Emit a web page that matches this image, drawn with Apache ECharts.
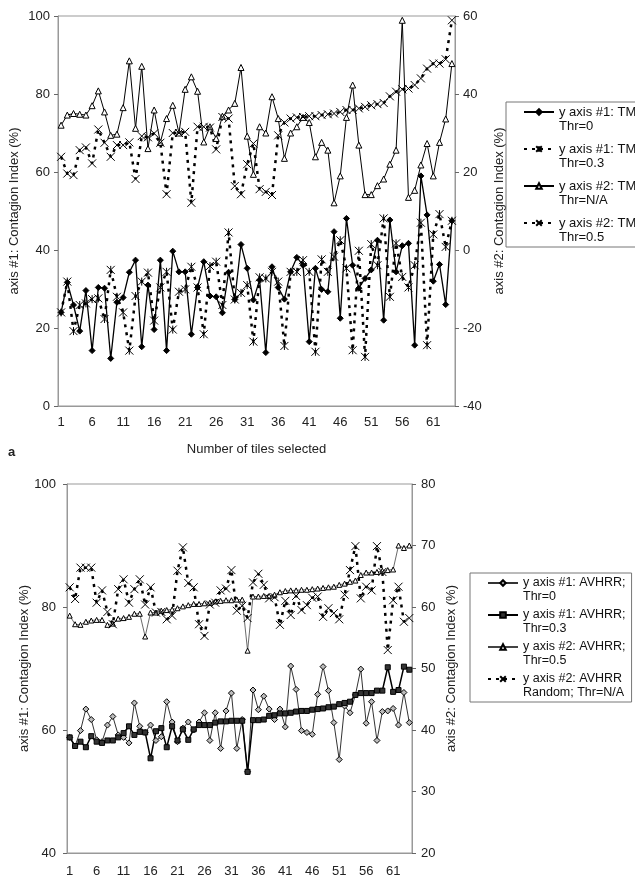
<!DOCTYPE html>
<html>
<head>
<meta charset="utf-8">
<script src="https://cdn.jsdelivr.net/npm/echarts@6.0.0/dist/echarts.min.js"></script>
<style>
  html, body { margin: 0; padding: 0; background: #fff; }
  #chart { width: 635px; height: 890px; }
</style>
</head>
<body>
<div id="chart"></div>
<script>
// categories: number of tiles selected
const tiles = Array.from({ length: 64 }, (_, i) => String(i + 1));

// panel a (TM) - axis #1 values
const tmThr0 = [24.0, 31.7, 25.9, 19.2, 29.6, 14.2, 30.4, 30.2, 12.2, 26.6,
  27.8, 34.3, 37.4, 15.2, 31.0, 19.6, 37.4, 14.2, 39.7, 34.4,
  34.4, 18.4, 30.4, 37.0, 28.2, 28.0, 23.9, 34.3, 27.3, 41.4,
  35.3, 27.2, 32.3, 13.7, 35.7, 30.4, 27.4, 34.4, 38.1, 36.1,
  16.5, 35.3, 29.9, 29.3, 44.7, 22.5, 48.1, 36.1, 30.2, 32.7,
  34.9, 42.5, 22.0, 47.7, 34.4, 41.1, 41.7, 15.6, 59.0, 49.0,
  32.0, 36.3, 26.0, 47.5];
const tmThr03 = [24.0, 31.9, 19.2, 25.9, 26.3, 27.4, 27.6, 22.3, 34.9, 28.0,
  24.0, 14.2, 28.2, 31.9, 34.2, 21.9, 30.4, 34.4, 19.6, 29.3,
  29.9, 35.7, 30.4, 18.4, 35.9, 37.0, 25.9, 44.5, 27.3, 29.0,
  31.0, 16.5, 33.0, 32.7, 34.4, 31.9, 15.4, 34.4, 34.4, 37.4,
  34.4, 13.9, 37.6, 34.4, 38.3, 42.5, 35.3, 14.3, 39.8, 12.6,
  41.5, 36.1, 48.1, 28.0, 41.7, 33.1, 30.4, 36.1, 47.0, 15.6,
  44.0, 49.2, 40.8, 47.5];
// panel a (TM) - axis #2 values
const tmThrNA = [32.0, 34.6, 35.0, 34.8, 34.6, 37.0, 40.8, 35.4, 29.4, 29.7,
  36.5, 48.5, 31.2, 47.1, 26.0, 35.9, 27.6, 33.7, 37.1, 30.0,
  41.2, 44.4, 40.7, 27.7, 31.6, 28.6, 34.3, 35.9, 37.6, 46.8,
  29.2, 19.4, 31.6, 30.0, 39.3, 33.7, 23.5, 30.0, 31.6, 34.0,
  32.7, 23.9, 27.6, 25.6, 12.1, 19.0, 34.0, 42.3, 26.9, 14.2,
  14.2, 16.5, 18.2, 22.0, 25.6, 58.9, 13.5, 15.3, 21.8, 27.3,
  19.0, 27.6, 33.6, 47.8];
const tmThr05 = [23.9, 19.6, 19.2, 25.6, 26.3, 22.2, 30.9, 27.5, 23.9, 26.9,
  26.9, 27.6, 18.2, 29.2, 28.9, 29.9, 27.5, 14.3, 30.0, 30.0,
  30.3, 12.1, 31.6, 31.6, 31.4, 25.8, 34.1, 33.7, 16.4, 14.3,
  22.0, 27.3, 15.6, 14.9, 14.1, 29.4, 32.7, 33.7, 34.0, 34.1,
  34.3, 34.3, 34.6, 34.8, 35.0, 35.4, 35.9, 35.9, 36.3, 36.7,
  37.1, 37.4, 37.7, 39.4, 40.6, 41.2, 41.4, 42.3, 44.0, 46.5,
  47.8, 47.8, 48.9, 58.9];

// panel b (AVHRR) - axis #1 values
const avThr0 = [58.8, 57.4, 59.9, 63.4, 61.7, 58.4, 58.1, 60.8, 62.2, 59.2,
  58.8, 57.9, 64.4, 60.6, 59.6, 60.8, 58.3, 58.9, 64.6, 61.3,
  58.1, 60.3, 61.3, 60.0, 61.3, 62.8, 58.3, 62.8, 57.0, 63.1,
  66.0, 57.0, 61.7, 53.2, 66.5, 63.3, 65.5, 63.4, 61.7, 63.4,
  60.5, 70.4, 66.6, 59.9, 59.6, 59.3, 65.8, 70.3, 66.4, 61.2,
  55.2, 63.9, 62.8, 65.7, 69.9, 61.1, 64.6, 58.3, 63.0, 63.1,
  63.5, 60.8, 66.1, 61.2];
const avThr03 = [58.8, 57.4, 58.1, 57.2, 59.0, 58.1, 57.9, 58.3, 58.3, 58.8,
  59.5, 60.6, 59.2, 59.7, 59.6, 55.4, 59.8, 60.3, 57.2, 60.6,
  58.3, 60.1, 58.4, 60.1, 60.8, 60.8, 60.8, 61.2, 61.4, 61.4,
  61.5, 61.5, 61.5, 53.2, 61.6, 61.6, 61.7, 62.3, 62.4, 62.7,
  62.7, 62.8, 63.0, 63.1, 63.1, 63.3, 63.4, 63.5, 63.7, 63.8,
  64.2, 64.4, 64.6, 65.7, 66.0, 66.0, 66.0, 66.4, 66.4, 70.2,
  66.2, 66.5, 70.3, 69.8];
// panel b (AVHRR) - axis #2 values
const avThr05 = [58.6, 57.2, 57.1, 57.6, 57.8, 57.9, 57.9, 57.1, 57.3, 58.1,
  58.2, 58.4, 58.9, 58.9, 55.2, 59.1, 59.1, 59.4, 59.5, 59.6,
  59.8, 60.1, 60.3, 60.5, 60.5, 60.6, 60.7, 60.9, 61.0, 61.1,
  61.1, 61.2, 61.2, 52.9, 61.7, 61.7, 61.8, 61.8, 62.0, 62.4,
  62.6, 62.7, 62.7, 62.8, 62.8, 62.9, 63.0, 63.1, 63.2, 63.3,
  63.6, 63.8, 64.1, 64.3, 65.2, 65.6, 65.6, 65.7, 65.9, 66.0,
  66.1, 70.0, 69.6, 70.0];
const avRandom = [63.2, 61.3, 66.4, 66.4, 66.4, 60.7, 62.7, 59.2, 57.2, 62.9,
  64.5, 60.7, 62.9, 64.5, 60.4, 63.2, 59.1, 59.2, 58.0, 58.6,
  65.9, 69.7, 63.9, 63.2, 57.2, 55.3, 60.4, 60.7, 62.7, 63.0,
  66.0, 59.4, 60.2, 58.2, 64.0, 65.4, 63.6, 61.4, 61.6, 57.1,
  61.0, 58.7, 61.8, 59.5, 60.3, 61.5, 61.7, 58.4, 59.8, 59.0,
  58.0, 62.0, 66.0, 69.9, 61.4, 63.3, 62.7, 69.9, 65.7, 53.0,
  61.1, 63.3, 57.6, 58.2];

const namesA = ["y axis #1: TM;\nThr=0", "y axis #1: TM;\nThr=0.3",
  "y axis #2: TM;\nThr=N/A", "y axis #2: TM;\nThr=0.5"];
const namesB = ["y axis #1: AVHRR;\nThr=0", "y axis #1: AVHRR;\nThr=0.3",
  "y axis #2: AVHRR;\nThr=0.5", "y axis #2: AVHRR\nRandom; Thr=N/A"];

const chart = echarts.init(document.getElementById("chart"), null, { renderer: "canvas" });

const FONT = "Liberation Sans, Arial, sans-serif";
const xMark = "path://M0,0L10,10M10,0L0,10";
const starMark = "path://M0,0L10,10M10,0L0,10M5,0L5,10";
const dash = [3, 5];
const frame = "#999";

// x axis helper (tick at every tile, label every 5th)
const mkX = (grid, name, margin) => ({
  type: "category",
  gridIndex: grid,
  data: tiles,
  boundaryGap: true,
  name: name,
  nameLocation: "middle",
  nameGap: 37,
  nameMoveOverlap: false,
  nameTextStyle: { fontSize: 13, color: "#222" },
  axisLine: { lineStyle: { color: frame } },
  axisTick: { interval: 0, length: 3, lineStyle: { color: "#666" } },
  axisLabel: { interval: 4, fontSize: 13, color: "#222", margin: margin },
  splitLine: { show: false },
});

const mkY = (grid, pos, min, max, step, name, gap, margin) => ({
  type: "value",
  gridIndex: grid,
  position: pos,
  min: min,
  max: max,
  interval: step,
  name: name,
  nameLocation: "middle",
  nameGap: gap,
  nameMoveOverlap: false,
  nameRotate: 90,
  nameTextStyle: { fontSize: 13, color: "#222" },
  axisLine: { show: true, lineStyle: { color: frame } },
  axisTick: { show: true, length: 4, lineStyle: { color: "#666" } },
  axisLabel: { fontSize: 13, color: "#222", margin: margin },
  splitLine: { show: false },
});

const mkLine = (name, data, xi, yi, sym, size, fill, width, type, lineColor) => ({
  name: name,
  type: "line",
  xAxisIndex: xi,
  yAxisIndex: yi,
  data: data,
  symbol: sym,
  symbolSize: size,
  showSymbol: true,
  showAllSymbol: true,
  itemStyle: { color: fill, borderColor: "#000", borderWidth: 1 },
  lineStyle: { color: lineColor || "#000", width: width, type: type },
  emphasis: { disabled: true },
  z: 3,
});

// legend text gets an empty first line so the icon lines up with the first text line
const legendText = (name) => "\n" + name;

const option = {
  animation: false,
  backgroundColor: "#fff",
  textStyle: { fontFamily: FONT, color: "#222" },
  title: {
    text: "a",
    left: 3,
    top: 441,
    textStyle: { fontSize: 13, fontWeight: "bold", color: "#222", fontFamily: FONT },
  },
  grid: [
    { left: 58, top: 16, width: 397, height: 390, show: true, borderColor: frame, outerBoundsMode: "none" },
    { left: 67, top: 484, width: 345, height: 369, show: true, borderColor: frame, outerBoundsMode: "none" },
  ],
  xAxis: [mkX(0, "Number of tiles selected", 10), mkX(1, "", 12)],
  yAxis: [
    mkY(0, "left", 0, 100, 20, "axis #1: Contagion Index (%)", 37, 8),
    mkY(0, "right", -40, 60, 20, "axis #2: Contagion Index (%)", 38, 8),
    mkY(1, "left", 40, 100, 20, "axis #1: Contagion Index (%)", 36, 11),
    mkY(1, "right", 20, 80, 10, "axis #2: Contagion Index (%)", 33, 9),
  ],
  legend: [
    {
      data: namesA,
      formatter: legendText,
      orient: "vertical",
      left: 506,
      top: 102,
      itemWidth: 30,
      itemHeight: 7,
      itemGap: -5,
      padding: [-11, 6, 3, 17],
      borderColor: "#777",
      borderWidth: 1,
      selectedMode: false,
      textStyle: { fontSize: 13, lineHeight: 14, color: "#111", fontFamily: FONT },
    },
    {
      data: namesB,
      formatter: legendText,
      orient: "vertical",
      left: 470,
      top: 573,
      itemWidth: 30,
      itemHeight: 7,
      itemGap: -10,
      padding: [-11, 6, 2, 17],
      borderColor: "#777",
      borderWidth: 1,
      selectedMode: false,
      textStyle: { fontSize: 12.5, lineHeight: 14, color: "#111", fontFamily: FONT },
    },
  ],
  series: [
    mkLine(namesA[0], tmThr0, 0, 0, "diamond", 6, "#000", 1.3, "solid"),
    mkLine(namesA[1], tmThr03, 0, 0, starMark, 8, "#000", 2.5, dash),
    mkLine(namesA[2], tmThrNA, 0, 1, "triangle", 6, "#fff", 1, "solid"),
    mkLine(namesA[3], tmThr05, 0, 1, xMark, 8, "#000", 2.5, dash),
    mkLine(namesB[0], avThr0, 1, 2, "diamond", 6, "#bbb", 1, "solid", "#333"),
    mkLine(namesB[1], avThr03, 1, 2, "rect", 5, "#333", 1.5, "solid"),
    mkLine(namesB[2], avThr05, 1, 3, "triangle", 5, "#fff", 0.8, "solid", "#444"),
    mkLine(namesB[3], avRandom, 1, 3, xMark, 8, "#000", 2.5, dash),
  ],
};

chart.setOption(option);
</script>
</body>
</html>
